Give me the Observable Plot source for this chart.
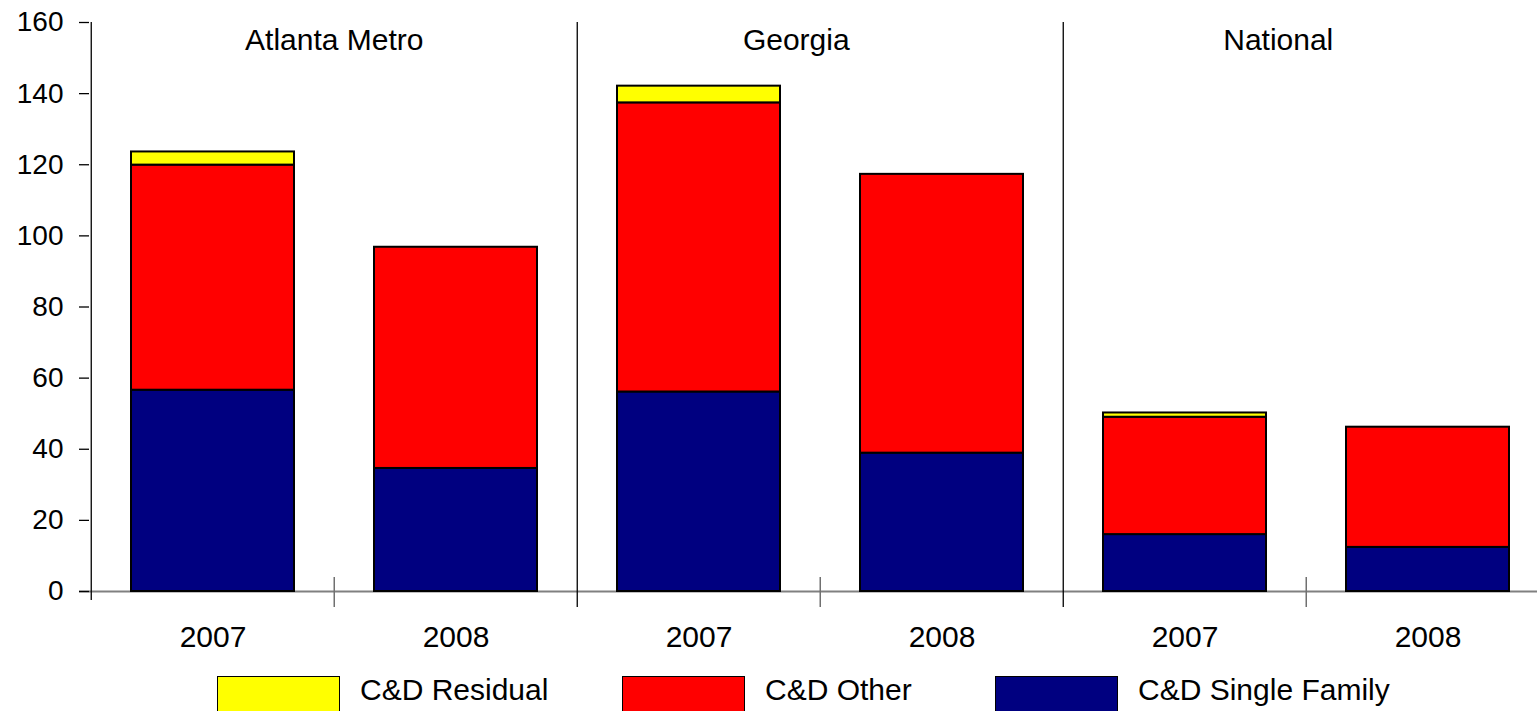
<!DOCTYPE html>
<html>
<head>
<meta charset="utf-8">
<script src="https://cdn.jsdelivr.net/npm/d3@7"></script>
<script src="https://cdn.jsdelivr.net/npm/@observablehq/plot@0.6"></script>
<style>
  body { margin: 0; background: #fff; font-family: "Liberation Sans", Arial, sans-serif; }
  #wrap { position: relative; width: 1537px; height: 711px; overflow: hidden; background: #fff; }
  #legend .box { position: absolute; top: 676px; width: 123px; height: 44px; border: 1px solid #000; box-sizing: border-box; }
  #legend .lbl { position: absolute; top: 675px; font-size: 30px; line-height: 30px; color: #000; white-space: nowrap; }
</style>
</head>
<body>
<div id="wrap"><div id="chart"></div><div id="legend"></div></div>
<script>
// ---- data ----
const groups = ["Atlanta Metro", "Georgia", "National"];
const years = ["2007", "2008"];
const seriesNames = ["C&D Single Family", "C&D Other", "C&D Residual"];
const seriesColors = ["#000080", "#FF0000", "#FFFF00"];
const singleFamily = [56.6, 34.6, 56.1, 38.9, 16.0, 12.4];
const other = [63.3, 62.2, 81.3, 78.4, 33.0, 33.8];
const residual = [3.7, 0, 4.7, 0, 1.2, 0];
const yTicks = [0, 20, 40, 60, 80, 100, 120, 140, 160];
const legendOrder = ["C&D Residual", "C&D Other", "C&D Single Family"];

// ---- build table ----
const keys = groups.flatMap(g => years.map(y => g + "|" + y));
const seriesValues = [singleFamily, other, residual];
const rows = [];
seriesNames.forEach((s, si) => keys.forEach((k, i) => {
  const v = seriesValues[si][i];
  if (v > 0) rows.push({key: k, series: s, value: v});
}));

// ---- layout ----
const W = 1537, H = 660;
const xRange = [89, 1550];
const step = (xRange[1] - xRange[0]) / keys.length;
const groupFirst = groups.map(g => g + "|" + years[0]);
const groupSecond = groups.map(g => g + "|" + years[1]);
const labelShift = [0, -24, -28];
const font = "Liberation Sans, Arial, sans-serif";

const chart = Plot.plot({
  width: W, height: H,
  marginTop: 22, marginBottom: 69, marginLeft: 89, marginRight: 0,
  style: {fontFamily: font, background: "white", color: "black"},
  x: {domain: keys, range: xRange, paddingInner: 0.33, paddingOuter: 0.165, axis: null},
  y: {domain: [0, 160], axis: null},
  color: {domain: seriesNames, range: seriesColors},
  marks: [
    Plot.ruleY([0], {stroke: "#808080", strokeWidth: 2, insetLeft: -10}),
    Plot.barY(rows, {x: "key", y: "value", fill: "series", stroke: "black", strokeWidth: 2}),
    Plot.ruleX([keys[0]], {y1: 160, y2: 0, dx: -step / 2, insetBottom: -9, stroke: "black", strokeWidth: 1.3}),
    Plot.ruleX(groupFirst.slice(1), {y1: 160, y2: 0, dx: -step / 2, insetBottom: -16, stroke: "black", strokeWidth: 1.3}),
    Plot.ruleX(groupSecond, {y1: 0, y2: 0, dx: -step / 2, insetTop: -14, insetBottom: -16, stroke: "#707070", strokeWidth: 1.5}),
    Plot.axisY(yTicks, {tickSize: 10, tickPadding: 16, fontSize: 28, label: null, stroke: "black", strokeWidth: 1.3}),
    Plot.axisX({tickSize: 0, tickPadding: 34, fontSize: 30, label: null, tickFormat: k => k.split("|")[1]}),
    ...groups.map((g, i) => Plot.text([g], {
      x: d => d + "|" + years[1], text: d => d,
      frameAnchor: "top", lineAnchor: "top", dy: 6, dx: -step / 2 + labelShift[i],
      fontSize: 30, fill: "black"
    }))
  ]
});
document.getElementById("chart").appendChild(chart);

// ---- legend (HTML, below the SVG) ----
const legendLeft = [217, 622, 995];
const legend = d3.select("#legend");
legendOrder.forEach((name, i) => {
  const color = seriesColors[seriesNames.indexOf(name)];
  legend.append("div").attr("class", "box").style("left", legendLeft[i] + "px").style("background", color);
  legend.append("div").attr("class", "lbl").style("left", (legendLeft[i] + 143) + "px").text(name);
});
</script>
</body>
</html>
